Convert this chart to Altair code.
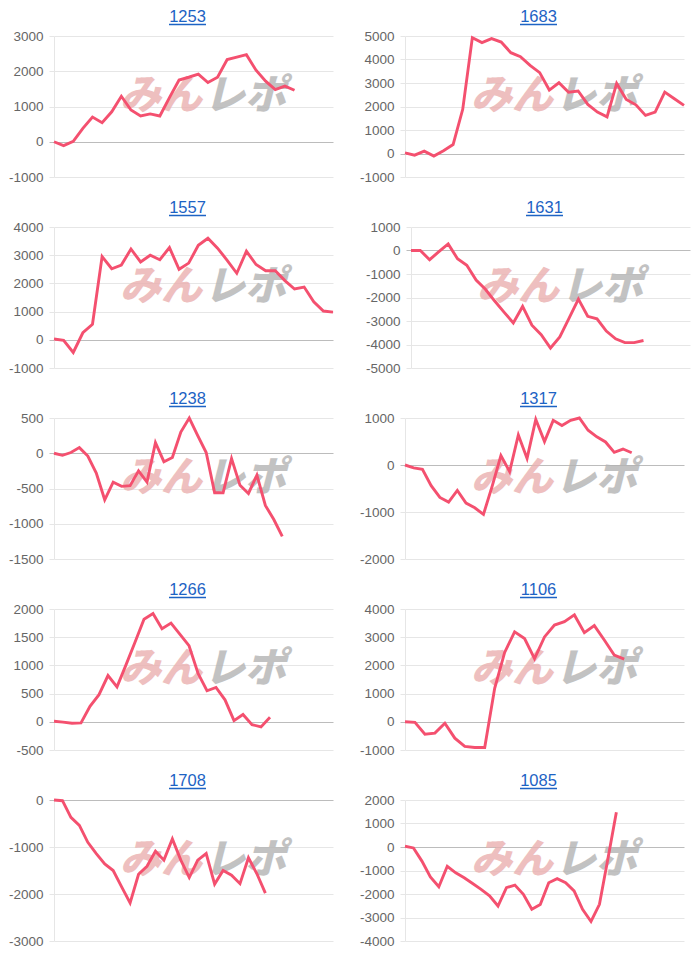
import altair as alt
import pandas as pd

TITLES = ["1253", "1683", "1557", "1631", "1238", "1317", "1266", "1106", "1708", "1085"]

V1253 = [0, -110, 10, 380, 700, 540, 850, 1290, 900, 730, 790, 730, 1250, 1750, 1830, 1920,
         1680, 1830, 2330, 2400, 2470, 2030, 1720, 1480, 1580, 1460]
V1683 = [30, -70, 100, -110, 120, 380, 1880, 4930, 4720, 4890, 4740, 4290, 4120, 3750, 3440,
         2700, 3010, 2610, 2660, 2090, 1760, 1560, 2980, 2300, 2070, 1620, 1760, 2610, 2330, 2050]
V1557 = [30, -20, -450, 250, 550, 2950, 2520, 2650, 3220, 2760, 3000, 2840, 3270, 2500, 2720,
         3350, 3600, 3250, 2820, 2360, 3140, 2670, 2450, 2450, 2100, 1800, 1870, 1350, 1020, 980]
V1631 = [0, 0, -390, -50, 280, -350, -630, -1260, -1650, -2150, -2620, -3080, -2380, -3180,
         -3580, -4150, -3680, -2880, -2070, -2800, -2910, -3430, -3760, -3920, -3920, -3830]
V1238 = [0, -30, 10, 80, -40, -280, -660, -410, -470, -460, -250, -410, 150, -120, -60, 300,
         500, 250, 10, -560, -560, -75, -455, -570, -310, -740, -940, -1180]
V1317 = [0, -60, -90, -440, -690, -790, -540, -810, -910, -1050, -450, 200, -140, 640, 140,
         970, 500, 950, 840, 950, 1000, 740, 600, 490, 270, 340, 260]
V1266 = [10, -5, -25, -20, 275, 480, 820, 620, 1010, 1410, 1820, 1920, 1650, 1750, 1550, 1350,
         860, 550, 610, 390, 20, 130, -50, -90, 80]
V1106 = [0, -20, -440, -400, -50, -580, -870, -910, -910, 1190, 2460, 3190, 2950, 2240, 3010,
         3430, 3550, 3790, 3160, 3410, 2900, 2370, 2220]
V1708 = [0, -15, -370, -540, -900, -1140, -1360, -1500, -1850, -2190, -1580, -1410, -1090,
         -1280, -830, -1280, -1650, -1280, -1140, -1790, -1500, -1600, -1780, -1230, -1570, -1980]
V1085 = [30, -40, -600, -1270, -1690, -820, -1100, -1310, -1550, -1800, -2080, -2510, -1730,
         -1620, -2010, -2650, -2450, -1520, -1350, -1520, -1870, -2650, -3170, -2440, -500, 1480]

SERIES = [V1253, V1683, V1557, V1631, V1238, V1317, V1266, V1106, V1708, V1085]
SLOTS = [30, 30, 30, 31, 34, 33, 32, 29, 34, 34]
Y_TICKS = [
    [-1000, 0, 1000, 2000, 3000],
    [-1000, 0, 1000, 2000, 3000, 4000, 5000],
    [-1000, 0, 1000, 2000, 3000, 4000],
    [-5000, -4000, -3000, -2000, -1000, 0, 1000],
    [-1500, -1000, -500, 0, 500],
    [-2000, -1000, 0, 1000],
    [-500, 0, 500, 1000, 1500, 2000],
    [-1000, 0, 1000, 2000, 3000, 4000],
    [-3000, -2000, -1000, 0],
    [-4000, -3000, -2000, -1000, 0, 1000, 2000],
]

W = 279
H = 141
FONT = "Liberation Sans"
LINE_COLOR = "#f4506f"
GRID = "#e6e6e6"
ZERO = "#bcbcbc"
TITLE_COLOR = "#1d63c4"


def panel(title, values, slots, ticks):
    df = pd.DataFrame({"i": list(range(len(values))), "v": values})
    one = pd.DataFrame({"k": [0]})
    yscale = alt.Scale(domain=[ticks[0], ticks[-1]], nice=False, zero=False)
    xscale = alt.Scale(domain=[0, slots - 1], nice=False, zero=False)
    zero_test = "datum.value === 0"

    line = alt.Chart(df).mark_line(color=LINE_COLOR, strokeWidth=2.9).encode(
        x=alt.X("i:Q", scale=xscale, axis=None),
        y=alt.Y("v:Q", scale=yscale, axis=alt.Axis(
            values=ticks, title=None, grid=True,
            gridColor={"condition": {"test": zero_test, "value": ZERO}, "value": GRID},
            gridWidth=1,
            domain=True, domainColor=GRID, ticks=True,
            tickColor={"condition": {"test": zero_test, "value": ZERO}, "value": GRID},
            tickSize=5,
            labelPadding=6, labelFontSize=13.5, labelColor="#666666", labelFont=FONT,
            labelOverlap=False, labelFlush=False,
            labelExpr="'' + datum.value", minExtent=54, maxExtent=54)),
    )
    wm1 = alt.Chart(one).mark_text(
        font="Noto Sans CJK JP", fontSize=41, fontWeight=900, fontStyle="italic",
        color="#eab0b0", opacity=0.8, align="right", baseline="middle").encode(
        x=alt.value(148), y=alt.value(61), text=alt.value("みん"))
    wm2 = alt.Chart(one).mark_text(
        font="Noto Sans CJK JP", fontSize=41, fontWeight=900, fontStyle="italic",
        color="#b4b4b4", opacity=0.8, align="left", baseline="middle").encode(
        x=alt.value(150), y=alt.value(61), text=alt.value("レポ"))
    ttl = alt.Chart(one).mark_text(
        font=FONT, fontSize=16.5, color=TITLE_COLOR, align="center",
        baseline="alphabetic").encode(
        x=alt.value(133.5), y=alt.value(-14), text=alt.value(title))
    underline = alt.Chart(one).mark_rule(color=TITLE_COLOR, strokeWidth=1.3).encode(
        x=alt.value(115), x2=alt.value(152), y=alt.value(-11.5))

    return alt.layer(wm1, wm2, line, ttl, underline).properties(width=W, height=H)


panels = [panel(TITLES[k], SERIES[k], SLOTS[k], Y_TICKS[k]) for k in range(10)]
rows = [alt.hconcat(panels[2 * r], panels[2 * r + 1], spacing=18) for r in range(5)]

chart = alt.vconcat(*rows, spacing=16).properties(
    padding={"left": 0, "top": 9, "right": 5, "bottom": 5},
    background="white",
).configure_view(stroke=None).configure_axis(labelOverlap=False)

chart.save("out.html", embed_options={"renderer": "svg", "actions": False})
